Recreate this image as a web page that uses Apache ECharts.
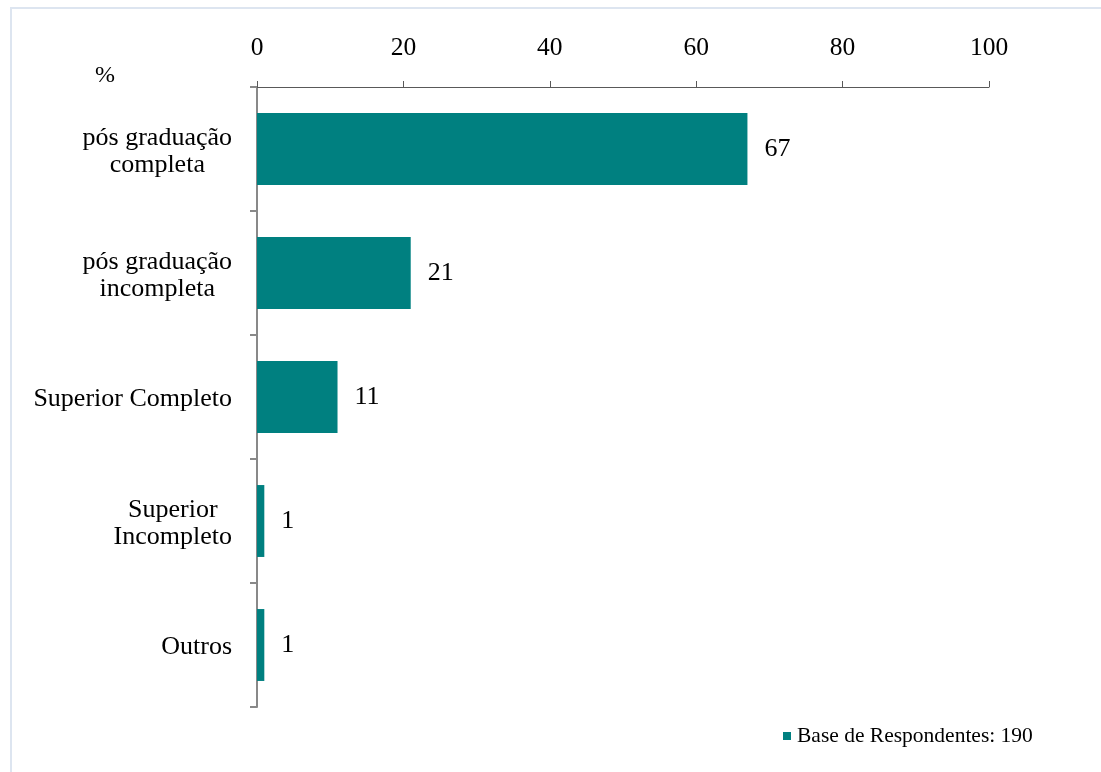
<!DOCTYPE html>
<html>
<head>
<meta charset="utf-8">
<script src="https://cdn.jsdelivr.net/npm/echarts@6/dist/echarts.min.js"></script>
<style>
  html, body { margin: 0; padding: 0; background: #ffffff; }
  #frame { position: absolute; left: 10px; top: 7px; right: -4px; bottom: -4px; border: 2px solid #dde5f0; }
  #chart { position: absolute; left: 0; top: 0; width: 1101px; height: 772px; }
</style>
</head>
<body>
<div id="frame"></div>
<div id="chart"></div>
<script>
// Escolaridade dos respondentes (%)
const categories = [
  'pós graduação\ncompleta',
  'pós graduação\nincompleta',
  'Superior Completo',
  'Superior\nIncompleto',
  'Outros'
];
const values = [67, 21, 11, 1, 1];
const xTicks = [0, 20, 40, 60, 80, 100];
const seriesName = 'Base de Respondentes: 190';
const unitLabel = '%';

const serif = "'Liberation Serif', 'Times New Roman', Times, serif";
const chart = echarts.init(document.getElementById('chart'), null, { renderer: 'canvas' });

chart.setOption({
  backgroundColor: 'transparent',
  animation: false,
  grid: { left: 257, right: 112, top: 87, bottom: 65, containLabel: false },
  legend: {
    data: [seriesName],
    left: 778,
    top: 720,
    icon: 'rect',
    itemWidth: 8,
    itemHeight: 8,
    itemGap: 6,
    textStyle: { fontFamily: serif, fontSize: 21.5, color: '#000', padding: [0, 0, 0, 1] }
  },
  graphic: [{
    type: 'text',
    left: 95,
    top: 64,
    style: { text: unitLabel, fontFamily: serif, fontSize: 24, fill: '#000' }
  }],
  xAxis: {
    type: 'value',
    position: 'top',
    min: xTicks[0],
    max: xTicks[xTicks.length - 1],
    interval: 20,
    splitLine: { show: false },
    axisLine: { show: true, lineStyle: { color: '#595959', width: 1 } },
    axisTick: { show: true, length: 6, lineStyle: { color: '#595959', width: 1 } },
    axisLabel: { fontFamily: serif, fontSize: 25.5, color: '#000', margin: 26 }
  },
  yAxis: {
    type: 'category',
    inverse: true,
    data: categories,
    axisLine: { show: true, lineStyle: { color: '#898989', width: 2 } },
    axisTick: { show: true, length: 7, alignWithLabel: false, lineStyle: { color: '#898989', width: 2 } },
    axisLabel: {
      fontFamily: serif,
      fontSize: 26,
      color: '#000',
      margin: 25,
      align: 'right',
      padding: [5, 0, 0, 0],
      formatter: v => v.split('\n').map(l => '{c|' + l + '}').join('\n'),
      rich: { c: { align: 'center', fontFamily: serif, fontSize: 26, lineHeight: 27, color: '#000' } }
    }
  },
  series: [{
    name: seriesName,
    type: 'bar',
    data: values,
    barCategoryGap: '42%',
    itemStyle: { color: '#008080' },
    label: {
      show: true,
      position: 'right',
      distance: 17,
      padding: [4, 0, 0, 0],
      fontFamily: serif,
      fontSize: 26,
      color: '#000'
    }
  }]
});
</script>
</body>
</html>
